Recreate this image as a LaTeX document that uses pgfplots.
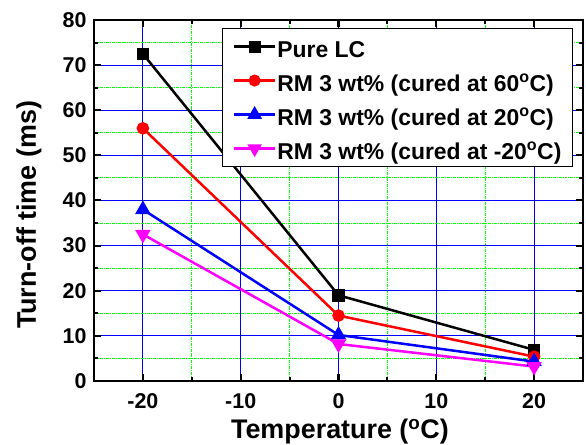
\documentclass[border=0pt]{standalone}
\usepackage{pgfplots}
\pgfplotsset{compat=1.18}
\usepackage{fontspec}
\setmainfont{Liberation Sans}
\definecolor{mygreen}{RGB}{0,255,0}
\definecolor{myblue}{RGB}{0,0,255}
\definecolor{mymag}{RGB}{255,0,255}
\begin{document}
\begin{tikzpicture}[x=1bp,y=1bp]
\begin{axis}[
  name=ax,
  scale only axis,
  width=489bp, height=361bp,
  xmin=-25, xmax=25, ymin=0, ymax=80,
  xtick={-20,-10,0,10,20},
  xticklabels={-20,-10,0,10,20},
  ytick={0,10,...,80},
  minor tick num=1,
  grid=both,
  major grid style={myblue, line width=0.9bp},
  minor grid style={mygreen, line width=0.9bp, densely dashdotted},
  axis line style={line width=2.8bp},
  tick style={black, line width=2bp},
  major tick length=7bp, minor tick length=4bp,
  tick align=inside,
  /pgf/number format/assume math mode=true,
  tick label style={font=\fontsize{21.5}{24}\selectfont\bfseries},
  xticklabel style={anchor=base, yshift=-27bp},
  yticklabel style={anchor=east, xshift=-4bp},
  label style={font=\fontsize{27}{30}\selectfont\bfseries},
  xlabel={Temperature (\textsuperscript{o}C)},
  ylabel={Turn-off time (ms)},
  xlabel style={at={(axis description cs:0.503,-0.158)}, anchor=base},
  ylabel style={at={(axis description cs:-0.133,0.46)}, anchor=center, rotate=0},
  legend style={at={(rel axis cs:0.9796,0.978)}, anchor=north east,
    font=\fontsize{23}{25}\selectfont\bfseries, draw=black, line width=1.2bp,
    row sep=10bp, inner xsep=10bp, inner ysep=6bp,
    nodes={inner sep=1bp, text height=22bp, text depth=0bp}},
  legend cell align=left,
  legend image code/.code={%
    \draw[#1, line width=2.5bp] (0bp,0bp) -- (41bp,0bp);
    \draw[#1, line width=2bp, mark repeat=2, mark phase=2] plot coordinates {(0bp,0bp) (20.5bp,0bp) (41bp,0bp)};},
]
\addplot[black, line width=2.5bp, mark=square*, mark size=5bp] coordinates {(-20,72.5) (0,19) (20,6.9)};
\addlegendentry{Pure LC}
\addplot[red, line width=2.5bp, mark=*, mark size=5bp] coordinates {(-20,56) (0,14.5) (20,5.4)};
\addlegendentry{RM 3 wt\% (cured at 60\textsuperscript{o}C)}
\addplot[myblue, line width=2.5bp, mark=triangle*, mark size=6.5bp] coordinates {(-20,38) (0,10.2) (20,4.3)};
\addlegendentry{RM 3 wt\% (cured at 20\textsuperscript{o}C)}
\addplot[mymag, line width=2.5bp, mark=triangle*, mark options={rotate=180}, mark size=6.5bp] coordinates {(-20,32.5) (0,8.2) (20,3.2)};
\addlegendentry{RM 3 wt\% (cured at -20\textsuperscript{o}C)}
\end{axis}
\pgfresetboundingbox
\useasboundingbox ([shift={(-94bp,-64bp)}]ax.south west) rectangle ([shift={(3bp,20bp)}]ax.north east);
\end{tikzpicture}
\end{document}
